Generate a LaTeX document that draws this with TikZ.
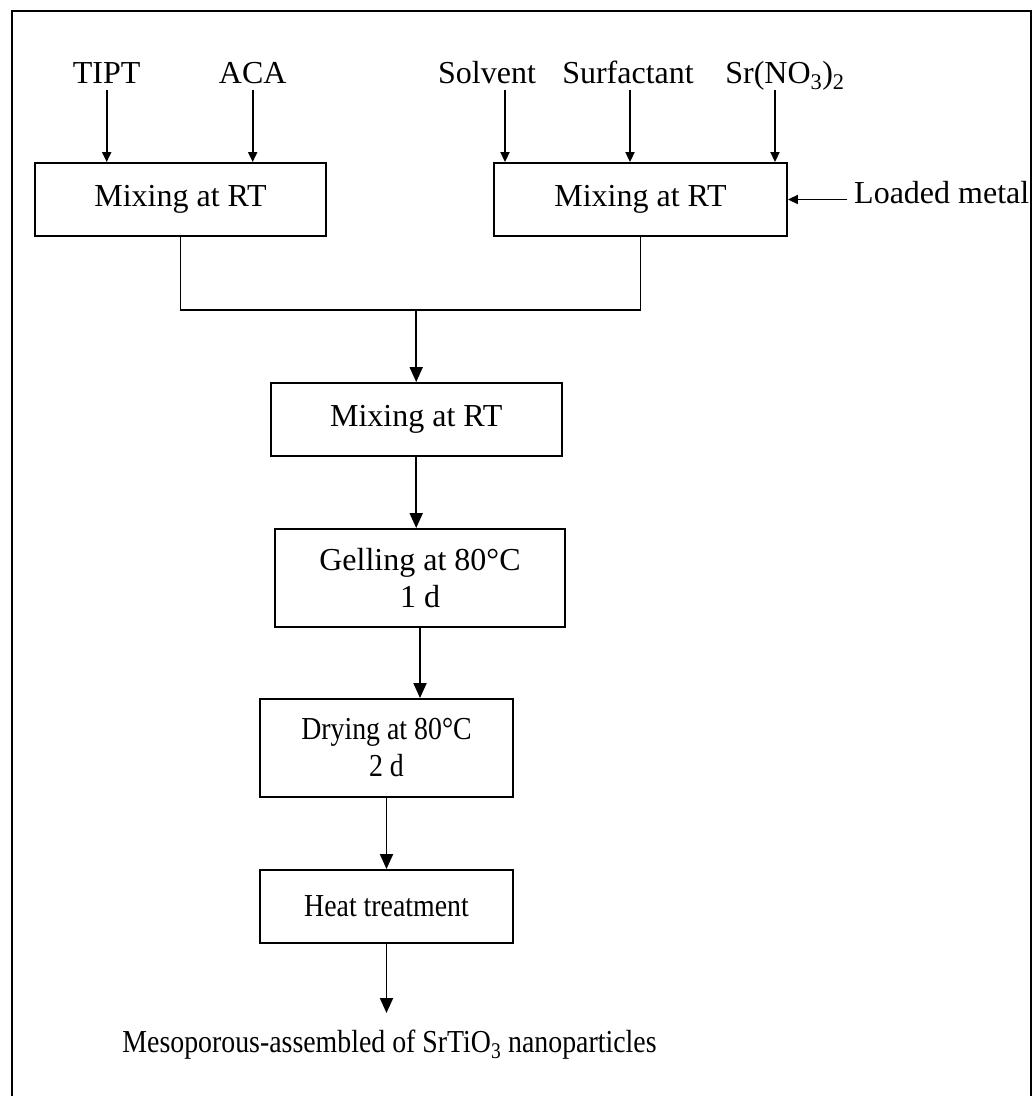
\documentclass[tikz,border=0pt]{standalone}
\usepackage{fontspec}
\usepackage{graphicx}
\setmainfont{Liberation Serif}
\usetikzlibrary{arrows.meta}
\newcommand{\narrow}[1]{\scalebox{0.87}[1]{#1}}
\begin{document}
\begin{tikzpicture}[x=1pt,y=-1pt,
  every node/.style={font=\fontsize{32}{37}\selectfont, inner sep=0pt},
  box/.style={draw, line width=1.9pt, align=center},
  conn/.style={line width=1.9pt},
  bigarrow/.style={line width=1.9pt, -{Triangle[length=15pt,width=13pt]}},
  smallarrow/.style={line width=1.9pt, -{Triangle[length=10pt,width=9pt]}}]
\useasboundingbox (0,0) rectangle (1032,1096);
\draw[line width=1.9pt] (12,1100) -- (12,11) -- (1031,11) -- (1031,1100);

% inputs
\node[anchor=base] (tipt) at (106.7,83) {TIPT};
\node[anchor=base] (aca) at (252.7,83) {ACA};
\node[anchor=base] (solv) at (487,83) {Solvent};
\node[anchor=base] (surf) at (628,83) {Surfactant};
\node[anchor=base] (sr) at (785,83) {Sr(NO\textsubscript{3})\textsubscript{2}};

% boxes
\node[box, minimum width=291pt, minimum height=73pt] (m1) at (180.5,199.5) {Mixing at RT};
\node[box, minimum width=293pt, minimum height=73pt] (m2) at (640.5,199.5) {Mixing at RT};
\node[anchor=base west] (lm) at (854,203) {Loaded metal};
\node[box, minimum width=291pt, minimum height=73pt] (m3) at (416.2,419.5) {Mixing at RT};
\node[box, minimum width=290pt, minimum height=98pt] (m4) at (420,578) {Gelling at 80°C\\1 d};
\node[box, minimum width=253pt, minimum height=98pt] (m5) at (386.5,748) {\narrow{Drying at 80°C}\\\narrow{2 d}};
\node[box, minimum width=253pt, minimum height=73pt] (m6) at (386.5,906.5) {\narrow{Heat treatment}};
\node[anchor=base] (fin) at (389.5,1052) {\narrow{Mesoporous-assembled of SrTiO\textsubscript{3} nanoparticles}};

% helper coordinates
\coordinate (s1) at (505,90);
\coordinate (s2) at (630,90);
\coordinate (s3) at (775,90);
\coordinate (j) at (416.2,310);

% input arrows
\draw[smallarrow] ([yshift=-7pt]tipt.base) -- (tipt.base |- m1.north);
\draw[smallarrow] ([yshift=-7pt]aca.base) -- (aca.base |- m1.north);
\draw[smallarrow] (s1) -- (s1 |- m2.north);
\draw[smallarrow] (s2) -- (s2 |- m2.north);
\draw[smallarrow] (s3) -- (s3 |- m2.north);
\draw[smallarrow] ([xshift=-7pt]lm.base west |- m2.east) -- (m2.east);

% merge
\draw[conn] (m1.south) -- (m1.south |- j) -- (m2.south |- j) -- (m2.south);
\draw[bigarrow] (j) -- (m3.north);
\draw[bigarrow] (m3.south) -- (m3.south |- m4.north);
\draw[bigarrow] (m4.south) -- (m4.south |- m5.north);
\draw[bigarrow] (m5.south) -- (m6.north);
\draw[bigarrow] (m6.south) -- (m6.south |- {(0,1013)});
\end{tikzpicture}
\end{document}
